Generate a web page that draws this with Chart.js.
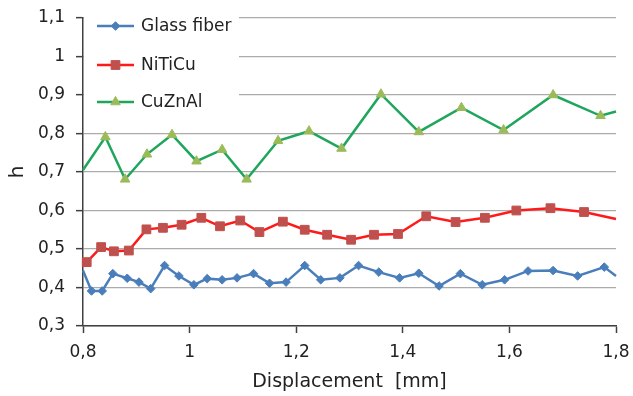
<!DOCTYPE html>
<html>
<head>
<meta charset="utf-8">
<script src="https://cdn.jsdelivr.net/npm/chart.js@4/dist/chart.umd.min.js"></script>
<style>
  html, body { margin: 0; padding: 0; background: #fff; }
  #wrap { width: 633px; height: 396px; }
</style>
</head>
<body>
<div id="wrap"><canvas id="hChart" width="633" height="396"></canvas></div>
<script>
// values (displacement in mm, h)
const glassFiberX = [0.80, 0.816, 0.836, 0.856, 0.883, 0.905, 0.927, 0.953, 0.980, 1.008, 1.033, 1.061, 1.089, 1.120, 1.150, 1.181, 1.216, 1.246, 1.282, 1.317, 1.355, 1.394, 1.430, 1.468, 1.508, 1.549, 1.591, 1.635, 1.682, 1.728, 1.778, 1.80];
const glassFiberH = [0.444, 0.391, 0.391, 0.436, 0.424, 0.414, 0.397, 0.457, 0.430, 0.407, 0.423, 0.420, 0.425, 0.436, 0.411, 0.414, 0.457, 0.420, 0.425, 0.457, 0.440, 0.425, 0.437, 0.404, 0.436, 0.407, 0.420, 0.443, 0.444, 0.430, 0.453, 0.430];

const niticuX = [0.807, 0.834, 0.858, 0.886, 0.919, 0.950, 0.985, 1.022, 1.057, 1.095, 1.131, 1.175, 1.216, 1.258, 1.303, 1.346, 1.391, 1.444, 1.499, 1.554, 1.613, 1.677, 1.740, 1.80];
const niticuH = [0.466, 0.505, 0.494, 0.496, 0.551, 0.555, 0.563, 0.581, 0.559, 0.574, 0.544, 0.571, 0.550, 0.537, 0.524, 0.537, 0.539, 0.585, 0.570, 0.581, 0.600, 0.606, 0.596, 0.578];

const cuznalX = [0.80, 0.842, 0.879, 0.920, 0.967, 1.013, 1.061, 1.107, 1.166, 1.224, 1.285, 1.359, 1.430, 1.510, 1.589, 1.682, 1.771, 1.80];
const cuznalH = [0.705, 0.791, 0.681, 0.746, 0.797, 0.728, 0.758, 0.681, 0.781, 0.806, 0.761, 0.902, 0.804, 0.867, 0.809, 0.900, 0.846, 0.857];

const seriesNames = ['Glass fiber', 'NiTiCu', 'CuZnAl'];
const xTickLabels = ['0,8', '1', '1,2', '1,4', '1,6', '1,8'];
const yTickLabels = ['0,3', '0,4', '0,5', '0,6', '0,7', '0,8', '0,9', '1', '1,1'];

const X_MIN = 0.8, X_MAX = 1.8;

function toPoints(xs, ys) {
    return xs.map((x, i) => ({ x: x, y: ys[i] }));
}

// no marker where the line just runs into the plot edge
function edgeRadius(r) {
    return ctx => {
        const x = ctx.raw ? ctx.raw.x : 0;
        return (x <= X_MIN || x >= X_MAX) ? 0 : r;
    };
}

// keep label overhang from shrinking the plot area
function noOverhang(axis) {
    axis.paddingTop = 0;
    axis.paddingBottom = 0;
    axis.paddingLeft = 0;
    axis.paddingRight = 0;
}

const styles = [
    { line: '#4a7ebb', fill: '#4a7ebb', shape: 'rectRot', r: 4.3 },
    { line: '#ff1a1a', fill: '#c0504d', shape: 'rect', r: 6.2 },
    { line: '#1fa65c', fill: '#9bbb59', shape: 'triangle', r: 5.5 }
];

const insideLegend = {
    id: 'insideLegend',
    afterDraw(chart) {
        const ctx = chart.ctx;
        const area = chart.chartArea;
        ctx.save();
        ctx.fillStyle = '#ffffff';
        ctx.fillRect(area.left + 1, 0, 238 - area.left, 117);
        const rows = [26, 65, 102];
        chart.data.datasets.forEach((ds, i) => {
            const y = rows[i];
            ctx.strokeStyle = ds.borderColor;
            ctx.lineWidth = 2.5;
            ctx.beginPath();
            ctx.moveTo(97, y);
            ctx.lineTo(134, y);
            ctx.stroke();
            ctx.fillStyle = styles[i].fill;
            ctx.strokeStyle = styles[i].fill;
            ctx.lineWidth = 1;
            Chart.helpers.drawPoint(ctx, {
                pointStyle: styles[i].shape,
                radius: styles[i].r,
                rotation: 0,
                borderWidth: 1
            }, 115.5, y);
            ctx.fillStyle = '#222';
            ctx.font = '17px "DejaVu Sans"';
            ctx.textBaseline = 'middle';
            ctx.textAlign = 'left';
            ctx.fillText(ds.label, 141, y + 1);
        });
        ctx.restore();
    }
};

const datasets = [
    toPoints(glassFiberX, glassFiberH),
    toPoints(niticuX, niticuH),
    toPoints(cuznalX, cuznalH)
].map((pts, i) => ({
    label: seriesNames[i],
    data: pts,
    borderColor: styles[i].line,
    backgroundColor: styles[i].fill,
    pointBackgroundColor: styles[i].fill,
    pointBorderColor: styles[i].fill,
    pointBorderWidth: 1,
    pointStyle: styles[i].shape,
    pointRadius: edgeRadius(styles[i].r),
    borderWidth: 2.5,
    tension: 0,
    clip: false
}));

new Chart(document.getElementById('hChart').getContext('2d'), {
    type: 'line',
    data: { datasets: datasets },
    options: {
        responsive: false,
        animation: false,
        layout: { padding: { top: 18, right: 17, left: 0, bottom: 0 } },
        plugins: {
            legend: { display: false },
            tooltip: { enabled: false }
        },
        scales: {
            x: {
                type: 'linear',
                min: X_MIN,
                max: X_MAX,
                afterBuildTicks: axis => {
                    axis.ticks = xTickLabels.map((t, i) => ({ value: X_MIN + i * 0.2 }));
                },
                afterFit: axis => { axis.height = 70; noOverhang(axis); },
                ticks: {
                    callback: (v, i) => xTickLabels[i],
                    color: '#222',
                    font: { family: 'DejaVu Sans', size: 17 },
                    padding: 9,
                    maxRotation: 0
                },
                grid: { drawOnChartArea: false, tickLength: 7, tickColor: '#404040', tickWidth: 1.5 },
                border: { color: '#404040', width: 1.5 },
                title: {
                    display: true,
                    text: 'Displacement  [mm]',
                    color: '#222',
                    font: { family: 'DejaVu Sans', size: 19 },
                    padding: { top: 0, bottom: 3 }
                }
            },
            y: {
                min: 0.3,
                max: 1.1,
                afterBuildTicks: axis => {
                    axis.ticks = yTickLabels.map((t, i) => ({ value: 0.3 + i * 0.1 }));
                },
                afterFit: axis => { axis.width = 83; noOverhang(axis); },
                ticks: {
                    callback: (v, i) => yTickLabels[i],
                    color: '#222',
                    font: { family: 'DejaVu Sans', size: 17 },
                    padding: 11
                },
                grid: { color: '#ababab', lineWidth: 1.3, tickLength: 7, tickColor: '#404040', tickWidth: 1.5 },
                border: { color: '#404040', width: 1.5 },
                title: {
                    display: true,
                    text: 'h',
                    color: '#222',
                    font: { family: 'DejaVu Sans', size: 20 },
                    padding: { top: 6, bottom: 0 }
                }
            }
        }
    },
    plugins: [insideLegend]
});
</script>
</body>
</html>
